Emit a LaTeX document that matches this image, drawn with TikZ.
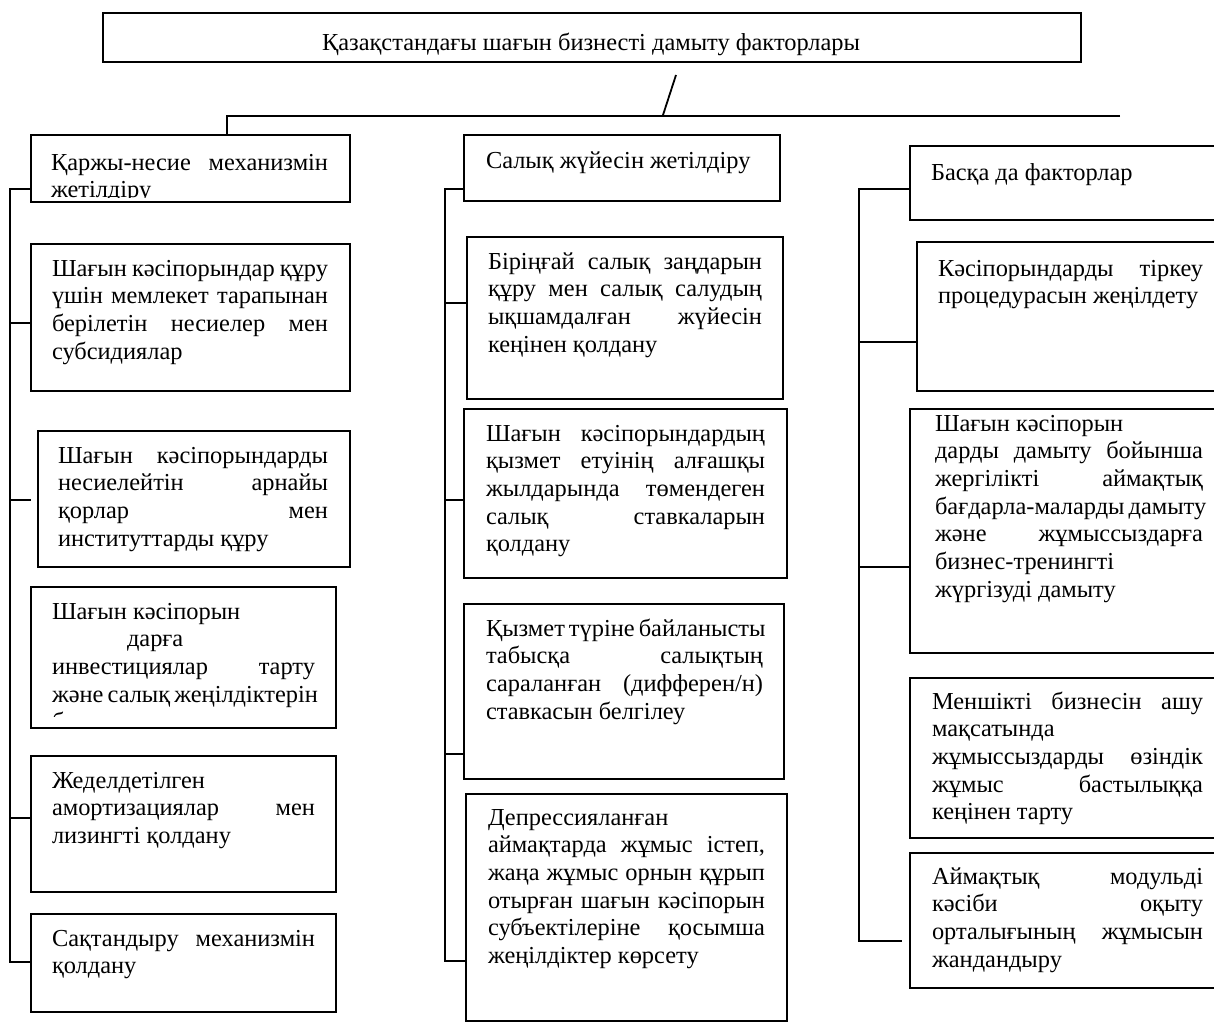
\documentclass[tikz,border=0pt]{standalone}
\usepackage{fontspec}
\setmainfont{Liberation Serif}
\usetikzlibrary{fit}
\hyphenpenalty=10000
\exhyphenpenalty=10000
\tikzset{
  box/.style={draw, line width=0.9pt, inner sep=0pt, outer sep=0pt},
  txt/.style={anchor=base west, inner sep=0pt, outer sep=0pt, align=justify,
              font=\fontsize{12.2pt}{13.85pt}\selectfont},
  conn/.style={line width=0.9pt},
}
\begin{document}
\begin{tikzpicture}[x=0.5pt, y=-0.5pt]
\useasboundingbox (0,0) rectangle (1214,1023);
\clip (0,0) rectangle (1214,1023);

% ---------- boxes ----------
\node[box, fit={(103,13) (1081,62)}] (b0) {};
\node[box, fit={(31,135) (350,202)}] (b1) {};
\node[box, fit={(31,244) (350,391)}] (b2) {};
\node[box, fit={(38,431) (350,567)}] (b3) {};
\node[box, fit={(31,587) (336,728)}] (b4) {};
\node[box, fit={(31,756) (336,892)}] (b5) {};
\node[box, fit={(31,914) (336,1012)}] (b6) {};
\node[box, fit={(464,135) (780,201)}] (bs) {};
\node[box, fit={(467,237) (783,399)}] (b7) {};
\node[box, fit={(464,409) (787,578)}] (b8) {};
\node[box, fit={(464,604) (784,779)}] (b9) {};
\node[box, fit={(466,794) (787,1021)}] (b10) {};
\node[box, fit={(910,146) (1240,220)}] (bb) {};
\node[box, fit={(917,242) (1240,391)}] (b11) {};
\node[box, fit={(910,409) (1240,653)}] (b12) {};
\node[box, fit={(910,678) (1240,838)}] (b13) {};
\node[box, fit={(910,853) (1240,988)}] (b14) {};

% ---------- texts ----------
\node[anchor=base, inner sep=0pt, font=\fontsize{12.2pt}{13.85pt}\selectfont] (t0) at (591,50)
  {Қазақстандағы шағын бизнесті дамыту факторлары};

\begin{scope}
\clip (b1.north west) rectangle ([yshift=2.5pt]b1.south east);
\node[txt, text width=138.5pt] (t1) at (51,170)
  {Қаржы-несие~механизмін\linebreak жетілдіру};
\end{scope}

\node[txt, text width=138pt] (t2) at (52,276)
  {Шағын~кәсіпорындар~құру\linebreak үшін~мемлекет~тарапынан\linebreak берілетін~несиелер~мен\linebreak субсидиялар};

\node[txt, text width=135pt] (t3) at (58,463)
  {Шағын~кәсіпорындарды\linebreak несиелейтін~арнайы\linebreak қорлар~мен\linebreak институттарды~құру};

\begin{scope}
\clip (b4.north west) rectangle ([yshift=6pt]b4.south east);
\node[txt, text width=131.5pt] (t4) at (52,619)
  {Шағын~кәсіпорын\newline \hspace*{37.5pt}дарға\newline инвестициялар~тарту\linebreak және~салық~жеңілдіктерін\linebreak беру};
\end{scope}

\node[txt, text width=131.5pt] (t5) at (52,788)
  {Жеделдетілген\newline амортизациялар~мен\linebreak лизингті~қолдану};

\node[txt, text width=131.5pt] (t6) at (52,946)
  {Сақтандыру~механизмін\linebreak қолдану};

\node[txt, text width=140pt] (ts) at (486,168)
  {Салық~жүйесін~жетілдіру};

\node[txt, text width=137pt] (t7) at (488,269)
  {Біріңғай~салық~заңдарын\linebreak құру~мен~салық~салудың\linebreak ықшамдалған~жүйесін\linebreak кеңінен~қолдану};

\node[txt, text width=139.5pt] (t8) at (486,441)
  {Шағын~кәсіпорындардың\linebreak қызмет~етуінің~алғашқы\linebreak жылдарында~төмендеген\linebreak салық~ставкаларын\linebreak қолдану};

\node[txt, text width=138.5pt] (t9) at (486,636)
  {Қызмет~түріне~байланысты\linebreak табысқа~салықтың\linebreak сараланған~(дифферен/н)\linebreak ставкасын~белгілеу};

\node[txt, text width=138.5pt] (t10) at (488,825)
  {Депрессияланған\newline аймақтарда~жұмыс~істеп,\linebreak жаңа~жұмыс~орнын~құрып\linebreak отырған~шағын~кәсіпорын\linebreak субъектілеріне~қосымша\linebreak жеңілдіктер~көрсету};

\node[txt, text width=140pt] (tb) at (931,180)
  {Басқа~да~факторлар};

\node[txt, text width=132.5pt] (t11) at (938,276)
  {Кәсіпорындарды~тіркеу\linebreak процедурасын~жеңілдету};

\node[txt, text width=134pt] (t12) at (935,431)
  {Шағын~кәсіпорын\newline дарды~дамыту~бойынша\linebreak жергілікті~аймақтық\linebreak бағдарла-маларды~дамыту\linebreak және~жұмыссыздарға\linebreak бизнес-тренингті\newline жүргізуді~дамыту};

\node[txt, text width=135.5pt] (t13) at (932,709)
  {Меншікті~бизнесін~ашу\linebreak мақсатында\newline жұмыссыздарды~өзіндік\linebreak жұмыс~бастылыққа\linebreak кеңінен~тарту};

\node[txt, text width=135.5pt] (t14) at (932,884)
  {Аймақтық~модульді\linebreak кәсіби~оқыту\linebreak орталығының~жұмысын\linebreak жандандыру};

% ---------- connectors ----------
\coordinate (s1) at (676,75);
\coordinate (s2) at (663,115);
\draw[conn] (s1) -- (s2);

\coordinate (h1) at (227,116);
\coordinate (h2) at (1120,116);
\draw[conn] (h2) -- (h1) -- (h1 |- b1.north);

% column 1
\coordinate (c1a) at (10,189);
\coordinate (c1b) at (10,962);
\draw[conn] (c1a -| b1.west) -- (c1a) -- (c1b) -- (c1b -| b6.west);
\coordinate (k2) at (10,323);
\draw[conn] (k2) -- (k2 -| b2.west);
\coordinate (k3) at (10,500);
\coordinate (k3e) at (31,500);
\draw[conn] (k3) -- (k3e);
\coordinate (k5) at (10,818);
\draw[conn] (k5) -- (k5 -| b5.west);

% column 2
\coordinate (c2a) at (445,189);
\coordinate (c2b) at (445,961);
\draw[conn] (c2a -| bs.west) -- (c2a) -- (c2b) -- (c2b -| b10.west);
\coordinate (k7) at (445,303);
\draw[conn] (k7) -- (k7 -| b7.west);
\coordinate (k8) at (445,500);
\draw[conn] (k8) -- (k8 -| b8.west);
\coordinate (k9) at (445,754);
\draw[conn] (k9) -- (k9 -| b9.west);

% column 3
\coordinate (c3a) at (859,189);
\coordinate (c3b) at (859,941);
\coordinate (c3e) at (902,941);
\draw[conn] (c3a -| bb.west) -- (c3a) -- (c3b) -- (c3e);
\coordinate (k11) at (859,342);
\draw[conn] (k11) -- (k11 -| b11.west);
\coordinate (k12) at (859,567);
\draw[conn] (k12) -- (k12 -| b12.west);
\end{tikzpicture}
\end{document}
